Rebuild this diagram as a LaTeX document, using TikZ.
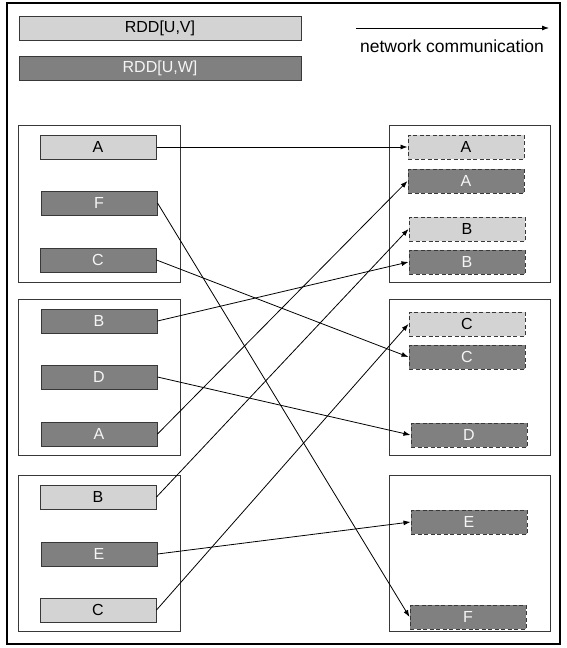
\documentclass[tikz,border=0pt]{standalone}
\usepackage{fontspec}
\setmainfont{Liberation Sans}
\usetikzlibrary{arrows.meta}
\definecolor{lightpart}{HTML}{D3D3D3}
\definecolor{darkpart}{HTML}{808080}
\definecolor{edgegray}{HTML}{383838}
\tikzset{
  part/.style={draw=edgegray, line width=1pt, minimum width=116pt, minimum height=24pt,
    inner sep=0pt, font=\fontsize{16}{18}\selectfont},
  lightrec/.style={part, fill=lightpart, text=black},
  darkrec/.style={part, fill=darkpart, text=white!92!gray},
  shuffled/.style={dashed, dash pattern=on 4pt off 2.5pt},
  holder/.style={draw=edgegray, line width=1pt},
  net/.style={-{Latex[length=7pt,width=5pt]}, line width=0.8pt, black},
}
\begin{document}
\begin{tikzpicture}[x=1pt, y=-1pt]
\useasboundingbox (0,0) rectangle (567,648);
% outer frame
\draw[line width=2.6pt, black] (7,3) rectangle (560,644);

% legend
\node[lightrec, minimum width=282pt] (lgv) at (160,28) {RDD[U,V]};
\node[darkrec, minimum width=282pt] (lgw) at (160,68) {RDD[U,W]};
\coordinate (nsa) at (356,28);
\coordinate (nsb) at (549,28);
\draw[net] (nsa) -- (nsb);
\node[font=\fontsize{17.5}{20}\selectfont] (nlabel) at (452,46) {network communication};

% partition containers
\draw[holder] (18,125) rectangle (180,282);
\draw[holder] (18,299) rectangle (180,455);
\draw[holder] (18,475) rectangle (180,631);
\draw[holder] (389,125) rectangle (550,282);
\draw[holder] (389,299) rectangle (550,455);
\draw[holder] (389,475) rectangle (550,631);

% source partitions
\node[lightrec] (la1) at (98,147) {A};
\node[darkrec]  (lf1) at (99,203) {F};
\node[darkrec]  (lc1) at (98,260) {C};
\node[darkrec]  (lb2) at (99,321) {B};
\node[darkrec]  (ld2) at (99,377) {D};
\node[darkrec]  (la2) at (99,434) {A};
\node[lightrec] (lb3) at (98,497) {B};
\node[darkrec]  (le3) at (99,554) {E};
\node[lightrec] (lc3) at (98,610) {C};

% shuffled partitions
\node[lightrec, shuffled] (ra1) at (466,147) {A};
\node[darkrec, shuffled]  (rA1) at (466,181) {A};
\node[lightrec, shuffled] (rb1) at (467,229) {B};
\node[darkrec, shuffled]  (rB1) at (467,262) {B};
\node[lightrec, shuffled] (rc2) at (467,324) {C};
\node[darkrec, shuffled]  (rC2) at (467,357) {C};
\node[darkrec, shuffled]  (rD2) at (469,435) {D};
\node[darkrec, shuffled]  (rE3) at (469,522) {E};
\node[darkrec, shuffled]  (rF3) at (468,617) {F};

% transfers
\draw[net] (la1.east) -- (ra1.west);
\draw[net] (lf1.east) -- (rF3.west);
\draw[net] (lc1.east) -- (rC2.west);
\draw[net] (lb2.east) -- (rB1.west);
\draw[net] (ld2.east) -- (rD2.west);
\draw[net] (la2.east) -- (rA1.west);
\draw[net] (lb3.east) -- (rb1.west);
\draw[net] (le3.east) -- (rE3.west);
\draw[net] (lc3.east) -- (rc2.west);
\end{tikzpicture}
\end{document}
